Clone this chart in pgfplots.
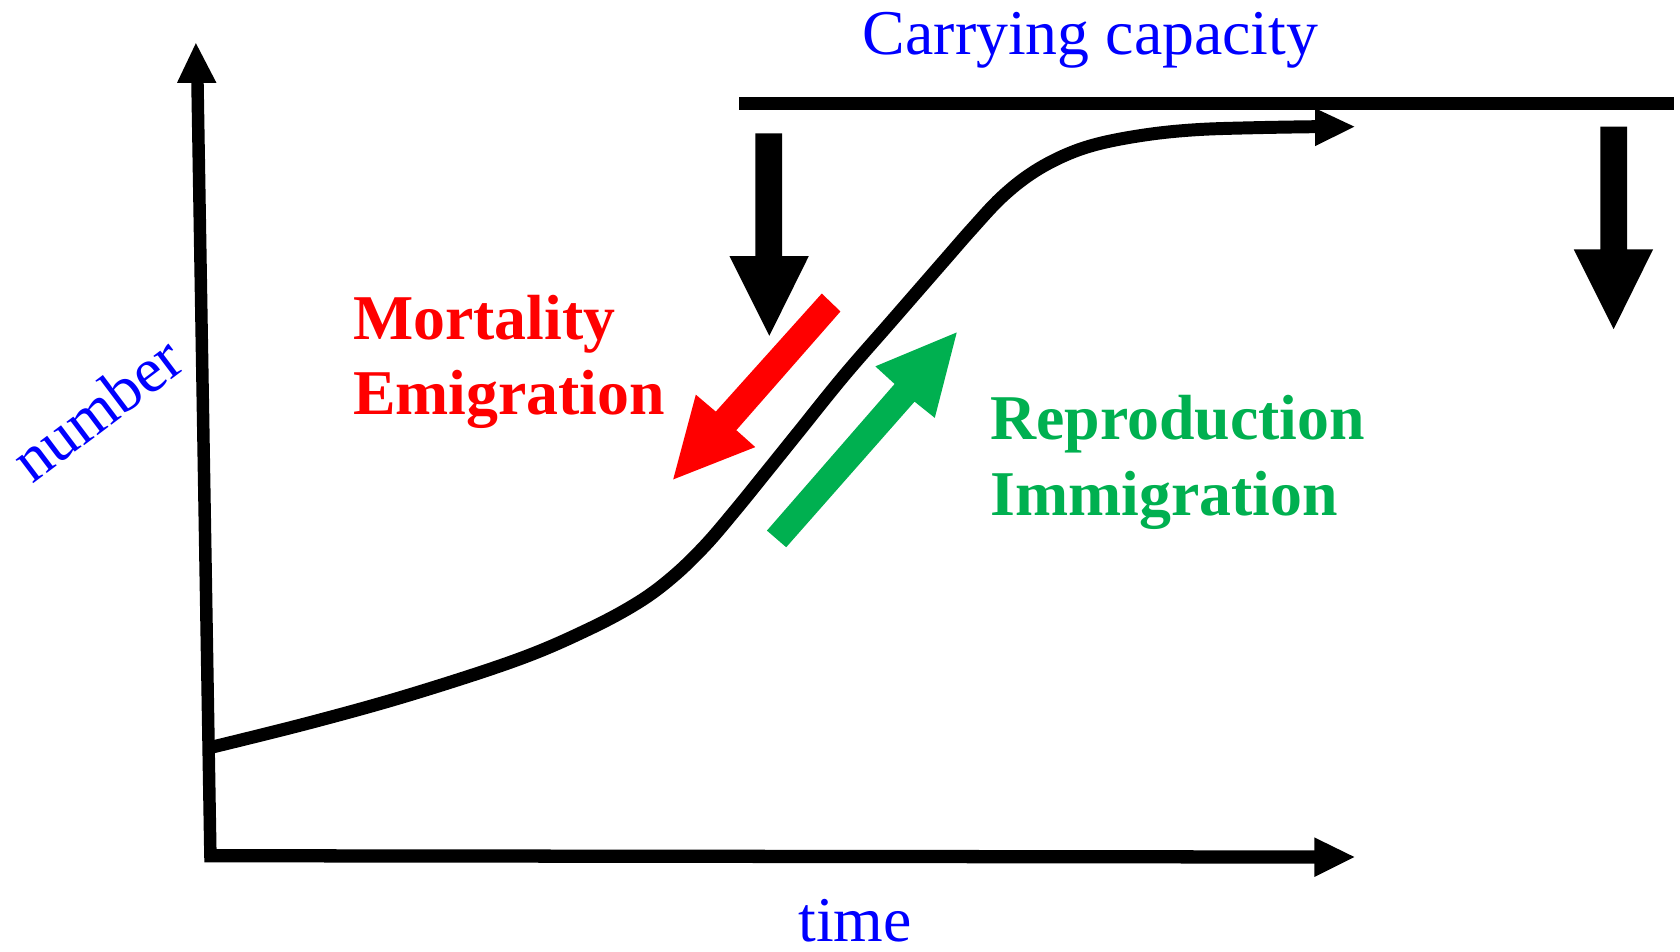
\documentclass[border=0pt]{standalone}
\usepackage{pgfplots}
\pgfplotsset{compat=1.18}
\usepackage{fontspec}
\setmainfont{Liberation Serif}
\definecolor{cblue}{RGB}{0,0,255}
\definecolor{cred}{RGB}{255,0,0}
\definecolor{cgreen}{RGB}{0,176,80}
\newcommand{\fs}{\fontsize{18.2}{22}\selectfont}
\tikzset{lbl/.style={inner sep=0pt, outer sep=0pt}}
\begin{document}
\begin{tikzpicture}
\begin{axis}[
  scale only axis, width=168mm, height=95.4mm,
  xmin=0, xmax=1680, ymin=0, ymax=954, y dir=reverse,
  hide axis, clip=false,
]
% bounding frame (invisible)
\addplot[draw=none] coordinates {(0,0) (1680,954)};
% y axis
\addplot[black, line width=1.25mm] coordinates {(211,860) (198,82)};
\addplot[fill=black, draw=none] coordinates {(177.5,83) (217,83) (196.4,43.3)} --cycle;
% x axis
\addplot[black, line width=1.33mm] coordinates {(205,858) (1319,859.3)};
\addplot[fill=black, draw=none] coordinates {(1318,839.7) (1318,879.3) (1358,859.3)} --cycle;
% carrying capacity line
\addplot[black, line width=1.3mm] coordinates {(741,103.5) (1678,103.5)};
% growth curve
\addplot[black, line width=1.3mm, smooth, tension=0.6] coordinates {
 (213,749) (313,724) (413,696) (520,661) (590,631) (640,604) (675,578)
 (707,547) (737,512) (767,475) (800,434) (846,377) (893,323) (947,261)
 (975,229) (1004,198) (1034,174) (1067,156) (1102,144) (1150,135)
 (1200,130) (1260,128) (1320,127)};
\addplot[fill=black, draw=none] coordinates {(1318.6,108.5) (1318.6,146.5) (1358,127)} --cycle;
% left down arrow
\addplot[fill=black, draw=none] coordinates {(757.5,133.7) (784.3,133.7) (784.3,256.7) (811,256.7) (771.4,336.7) (731.4,256.7) (757.5,256.7)} --cycle;
% right down arrow
\addplot[fill=black, draw=none] coordinates {(1604.6,127) (1631.4,127) (1631.4,250) (1657.5,250) (1618,330) (1578,250) (1604.6,250)} --cycle;
% red arrow
\addplot[fill=cred, draw=none] coordinates {(824,294.3) (842.7,312.3) (738.3,431.3) (757.3,448.3) (675,480.7) (697.7,395.7) (717.7,412.7)} --cycle;
% green arrow
\addplot[fill=cgreen, draw=none] coordinates {(769,532) (788.3,548.7) (917,402.7) (937.3,419) (959.3,333.3) (877.7,367.3) (897,385)} --cycle;
% texts
\node[lbl, anchor=base, text=cblue, font=\fs] at (axis cs:1093.5,55) {Carrying capacity};
\node[lbl, anchor=base west, text=cred, font=\fs\bfseries] at (axis cs:354,340) {Mortality};
\node[lbl, anchor=base west, text=cred, font=\fs\bfseries] at (axis cs:354,416) {Emigration};
\node[lbl, anchor=base west, text=cgreen, font=\fs\bfseries] at (axis cs:993,441) {Reproduction};
\node[lbl, anchor=base west, text=cgreen, font=\fs\bfseries] at (axis cs:993,517) {Immigration};
\node[lbl, anchor=base, text=cblue, font=\fs] at (axis cs:857.5,944) {time};
\node[lbl, rotate=37, text=cblue, font=\fs] at (axis cs:97,410) {number};
\end{axis}
\end{tikzpicture}
\end{document}
